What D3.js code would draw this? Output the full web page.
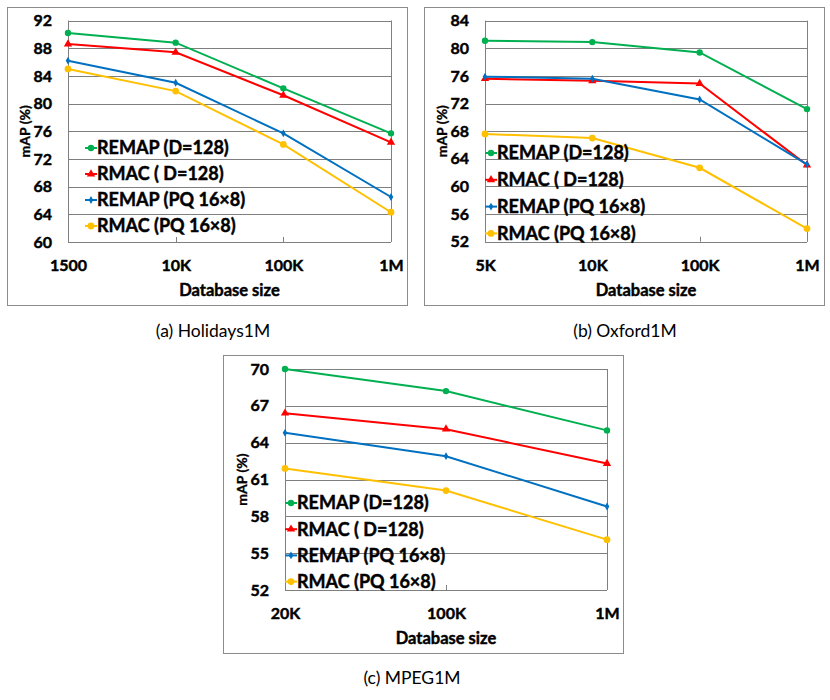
<!DOCTYPE html>
<html><head><meta charset="utf-8">
<script src="https://cdn.jsdelivr.net/npm/d3@7/dist/d3.min.js"></script>
<style>body{margin:0;background:#fff}svg{display:block}</style>
</head><body><svg id="chart" width="830" height="700"></svg>
<script>
// ---------- data ----------
const seriesNames = ["REMAP (D=128)", "RMAC ( D=128)", "REMAP (PQ 16×8)", "RMAC (PQ 16×8)"];

const holidaysCategories = ["1500", "10K", "100K", "1M"];
const holidaysRemapD128 = [90.2, 88.8, 82.2, 75.7];
const holidaysRmacD128 = [88.6, 87.4, 81.2, 74.4];
const holidaysRemapPQ = [86.2, 83.0, 75.7, 66.5];
const holidaysRmacPQ = [85.0, 81.8, 74.1, 64.3];
const holidaysTicks = [60, 64, 68, 72, 76, 80, 84, 88, 92];

const oxfordCategories = ["5K", "10K", "100K", "1M"];
const oxfordRemapD128 = [81.1, 80.9, 79.4, 71.2];
const oxfordRmacD128 = [75.6, 75.3, 74.9, 63.1];
const oxfordRemapPQ = [75.9, 75.6, 72.6, 63.2];
const oxfordRmacPQ = [67.6, 67.0, 62.7, 53.9];
const oxfordTicks = [52, 56, 60, 64, 68, 72, 76, 80, 84];

const mpegCategories = ["20K", "100K", "1M"];
const mpegRemapD128 = [70.0, 68.2, 65.0];
const mpegRmacD128 = [66.4, 65.1, 62.3];
const mpegRemapPQ = [64.8, 62.9, 58.8];
const mpegRmacPQ = [61.9, 60.1, 56.1];
const mpegTicks = [52, 55, 58, 61, 64, 67, 70];

const captions = ["(a) Holidays1M", "(b) Oxford1M", "(c) MPEG1M"];

// ---------- styling ----------
const colors = ["#00B050", "#FF0000", "#0070C0", "#FFC000"];
const symbols = [d3.symbolCircle, d3.symbolTriangle, d3.symbolDiamond, d3.symbolCircle];
const symSizes = [32, 30, 18, 36];
const FONT = "Lato, 'Open Sans', sans-serif";

const svg = d3.select("#chart");

function heavy(sel) {
  return sel.attr("font-family", FONT).attr("font-weight", "bold")
    .attr("fill", "#000").attr("stroke", "#000").attr("stroke-width", 0.45);
}

const panels = [
  { cats: holidaysCategories, series: [holidaysRemapD128, holidaysRmacD128, holidaysRemapPQ, holidaysRmacPQ],
    ticks: holidaysTicks, caption: captions[0],
    frame: {x: 7.5, y: 7.5, w: 400, h: 298}, plot: {l: 68, r: 391, t: 20.5, b: 242},
    legend: {x: 85, y: 148, dy: 26}, capY: 331, capX: 213 },
  { cats: oxfordCategories, series: [oxfordRemapD128, oxfordRmacD128, oxfordRemapPQ, oxfordRmacPQ],
    ticks: oxfordTicks, caption: captions[1],
    frame: {x: 424.5, y: 7.5, w: 400, h: 298}, plot: {l: 485, r: 807, t: 20.7, b: 241.7},
    legend: {x: 485, y: 153, dy: 26.8}, capY: 331, capX: 625 },
  { cats: mpegCategories, series: [mpegRemapD128, mpegRmacD128, mpegRemapPQ, mpegRmacPQ],
    ticks: mpegTicks, caption: captions[2],
    frame: {x: 223.5, y: 355.5, w: 400, h: 298}, plot: {l: 285, r: 607, t: 369, b: 590},
    legend: {x: 285, y: 503, dy: 26.2}, capY: 678, capX: 412 }
];

panels.forEach(p => {
  const g = svg.append("g");
  g.append("rect").attr("x", p.frame.x).attr("y", p.frame.y)
    .attr("width", p.frame.w).attr("height", p.frame.h)
    .attr("fill", "#fff").attr("stroke", "#8c8c8c").attr("stroke-width", 1);

  const x = d3.scalePoint().domain(p.cats).range([p.plot.l, p.plot.r]).padding(0);
  const y = d3.scaleLinear().domain(d3.extent(p.ticks)).range([p.plot.b, p.plot.t]);

  // gridlines
  g.append("g").selectAll("line").data(p.ticks).join("line")
    .attr("x1", p.plot.l).attr("x2", p.plot.r)
    .attr("y1", d => Math.round(y(d)) + 0.5).attr("y2", d => Math.round(y(d)) + 0.5)
    .attr("stroke", "#7f7f7f").attr("stroke-width", 1);
  // left & right lines
  [p.plot.l, p.plot.r].forEach(xx => {
    g.append("line").attr("x1", Math.round(xx) + 0.5).attr("x2", Math.round(xx) + 0.5)
      .attr("y1", p.plot.t).attr("y2", p.plot.b).attr("stroke", "#7f7f7f");
  });
  // category tick marks
  g.append("g").selectAll("line").data(p.cats).join("line")
    .attr("x1", d => Math.round(x(d)) + 0.5).attr("x2", d => Math.round(x(d)) + 0.5)
    .attr("y1", p.plot.b - 5).attr("y2", p.plot.b)
    .attr("stroke", "#7f7f7f");

  // y axis labels
  const yAxis = d3.axisLeft(y).tickValues(p.ticks).tickSize(0).tickPadding(0).tickFormat(d3.format("d"));
  const ya = g.append("g").attr("transform", `translate(${p.plot.l - 16},0)`).call(yAxis);
  ya.select(".domain").remove();
  heavy(ya.selectAll("text")).attr("font-size", 16);

  // x axis labels
  const xAxis = d3.axisBottom(x).tickSize(0).tickPadding(0);
  const xa = g.append("g").attr("transform", `translate(0,${p.plot.b + 18})`).call(xAxis);
  xa.select(".domain").remove();
  heavy(xa.selectAll("text")).attr("font-size", 16);

  // axis titles
  heavy(g.append("text").attr("x", (p.plot.l + p.plot.r) / 2).attr("y", p.plot.b + 54)
    .attr("text-anchor", "middle").attr("font-size", 16.5).text("Database size"));
  heavy(g.append("text").attr("transform", `translate(${p.plot.l - 38},${(p.plot.t + p.plot.b) / 2}) rotate(-90)`)
    .attr("text-anchor", "middle").attr("font-size", 14).text("mAP (%)")).attr("stroke-width", 0.3);

  // series
  const line = d3.line().x((d, i) => x(p.cats[i])).y(d => y(d));
  p.series.forEach((vals, si) => {
    g.append("path").datum(vals).attr("d", line)
      .attr("fill", "none").attr("stroke", colors[si]).attr("stroke-width", 2);
    g.append("g").selectAll("path").data(vals).join("path")
      .attr("d", d3.symbol().type(symbols[si]).size(symSizes[si]))
      .attr("transform", (d, i) => `translate(${x(p.cats[i])},${y(d)})`)
      .attr("fill", colors[si]);
  });

  // legend
  seriesNames.forEach((name, si) => {
    const ly = p.legend.y + si * p.legend.dy;
    g.append("line").attr("x1", p.legend.x).attr("x2", p.legend.x + 12)
      .attr("y1", ly).attr("y2", ly).attr("stroke", colors[si]).attr("stroke-width", 2);
    g.append("path").attr("d", d3.symbol().type(symbols[si]).size(symSizes[si])())
      .attr("transform", `translate(${p.legend.x + 6},${ly})`).attr("fill", colors[si]);
    heavy(g.append("text").attr("x", p.legend.x + 12).attr("y", ly).attr("dy", "0.35em")
      .attr("font-size", 18).text(name));
  });

  // caption
  svg.append("text").attr("x", p.capX).attr("y", p.capY).attr("dy", "0.35em")
    .attr("text-anchor", "middle").attr("font-family", FONT).attr("font-size", 17.5)
    .attr("fill", "#000").text(p.caption);
});
</script>
</body></html>
